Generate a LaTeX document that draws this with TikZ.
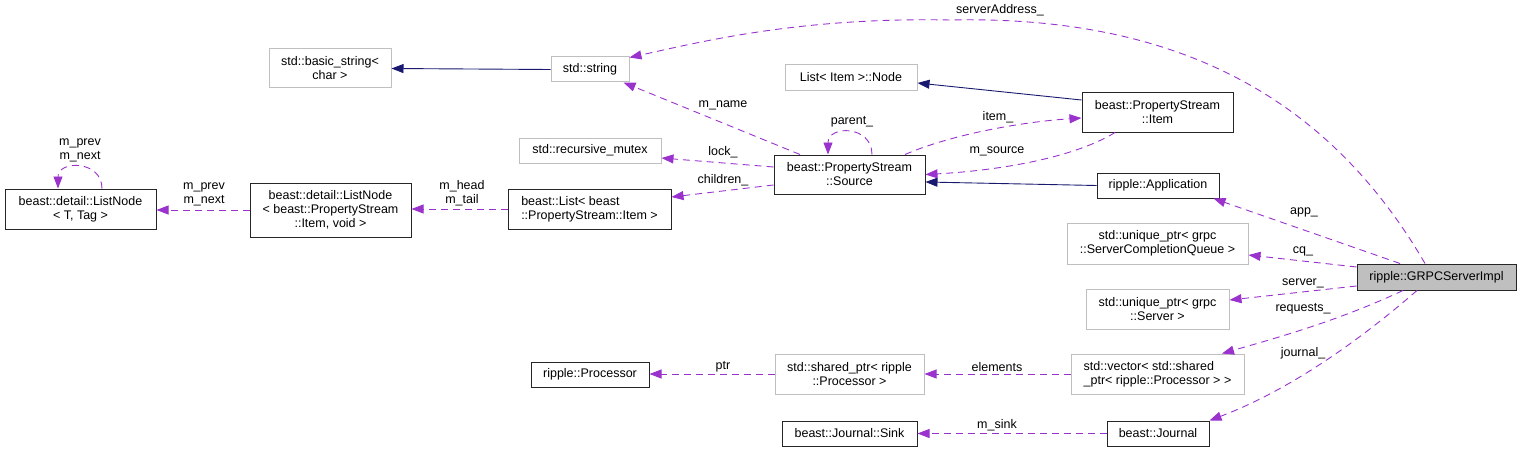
\documentclass[tikz,border=0pt]{standalone}
\usepackage{fontspec}
\setmainfont{Liberation Sans}
\usetikzlibrary{arrows.meta}
\definecolor{edgepurple}{RGB}{154,50,205}
\definecolor{edgenavy}{RGB}{25,25,112}
\definecolor{boxgray}{RGB}{191,191,191}

\begin{document}
\begin{tikzpicture}[x=1pt,y=-1pt,
  font=\fontsize{12.5}{14}\selectfont,
  cls/.style={draw=black!85, line width=1pt, inner sep=0pt, align=center},
  ext/.style={cls, draw=boxgray},
  member/.style={->, edgepurple, line width=0.9pt, dash pattern=on 7pt off 5pt},
  inherit/.style={->, edgenavy, line width=0.9pt},
  lbl/.style={inner sep=0pt, align=center}]
\useasboundingbox (0,0) rectangle (1521,452);
\begin{scope}[>={Triangle[length=12pt,width=9pt]}]

% classes
\node[cls, minimum width=151pt, minimum height=40pt] (lnT) at (80.5,209) {beast::detail::ListNode\\< T, Tag >};
\node[cls, minimum width=161pt, minimum height=54pt] (lnItem) at (330.5,210) {beast::detail::ListNode\\< beast::PropertyStream\\::Item, void >};
\node[cls, minimum width=163pt, minimum height=40pt, align=left] (listItem) at (589.5,209) {beast::List< beast\\::PropertyStream::Item >};
\node[ext, minimum width=122pt, minimum height=39pt] (basicstr) at (330,68.5) {std::basic\_string<\\char >};
\node[ext, minimum width=78pt, minimum height=25pt] (stdstring) at (590,69.5) {std::string};
\node[ext, minimum width=142pt, minimum height=25pt] (mutex) at (590,150.5) {std::recursive\_mutex};
\node[ext, minimum width=132pt, minimum height=25pt] (listnode) at (851,77.5) {List< Item >::Node};
\node[cls, minimum width=151pt, minimum height=39pt] (source) at (849.5,174.5) {beast::PropertyStream\\::Source};
\node[cls, minimum width=151pt, minimum height=40pt] (item) at (1157.5,112) {beast::PropertyStream\\::Item};
\node[cls, minimum width=122pt, minimum height=25pt] (app) at (1158,185.5) {ripple::Application};
\node[ext, minimum width=181pt, minimum height=41pt] (cq) at (1157.5,243.5) {std::unique\_ptr< grpc\\::ServerCompletionQueue >};
\node[ext, minimum width=143pt, minimum height=40pt] (server) at (1157.5,309) {std::unique\_ptr< grpc\\::Server >};
\node[cls, fill=boxgray, minimum width=159pt, minimum height=26pt] (grpc) at (1436.5,277) {ripple::GRPCServerImpl};
\node[cls, minimum width=118pt, minimum height=25pt] (processor) at (590,374.5) {ripple::Processor};
\node[ext, minimum width=149pt, minimum height=40pt] (sharedptr) at (849.5,374) {std::shared\_ptr< ripple\\::Processor >};
\node[ext, minimum width=173pt, minimum height=40pt, align=left] (vector) at (1157.5,374) {std::vector< std::shared\\\_ptr< ripple::Processor > >};
\node[cls, minimum width=135pt, minimum height=25pt] (sink) at (849.5,433.5) {beast::Journal::Sink};
\node[cls, minimum width=102pt, minimum height=25pt] (journal) at (1158,433.5) {beast::Journal};

% inheritance
\draw[inherit] (stdstring.west) -- (basicstr.east);
\draw[inherit] ([yshift=12pt]item.west) -- ([yshift=-5.5pt]listnode.east);
\draw[inherit] (app.west) -- ([yshift=-7.5pt]source.east);

% members
\draw[member] ([xshift=-11.5pt]grpc.north) .. controls (1330,100) and (1180,15) .. (950,20)
  .. controls (800,17) and (700,42) .. ([yshift=-1pt]stdstring.north east);
\draw[member] ([xshift=-49.5pt]source.north) -- ([xshift=-6pt]stdstring.south east);
\draw[member] ([xshift=22.5pt]source.north) .. controls (872,125) and (828,125) .. ([xshift=-21.5pt]source.north);
\draw[member] ([xshift=55.5pt]source.north) .. controls (950,135) and (1020,122) .. ([yshift=-6pt]item.west);
\draw[member] ([xshift=-42.5pt]item.south) .. controls (1070,160) and (990,171) .. (source.east);
\draw[member] ([yshift=7.5pt]source.west) -- ([yshift=-7.5pt]mutex.east);
\draw[member] ([yshift=-10.5pt]source.west) -- ([yshift=12pt]listItem.east);
\draw[member] (listItem.west) -- (listItem.west -| lnItem.east);
\draw[member] (lnItem.west) -- (lnItem.west -| lnT.east);
\draw[member] ([xshift=21.5pt]lnT.north) .. controls (102,160) and (58,160) .. ([xshift=-22.5pt]lnT.north);
\draw[member] ([xshift=-36.5pt]grpc.north) -- ([xshift=-6pt]app.south east);
\draw[member] ([yshift=10pt]grpc.west) -- ([yshift=-11.5pt]cq.east);
\draw[member] ([yshift=-9pt]grpc.west) -- ([yshift=9pt]server.east);
\draw[member] ([xshift=-33.5pt]grpc.south) .. controls (1340,320) and (1280,337) .. ([xshift=64.5pt]vector.north);
\draw[member] ([xshift=-19.5pt]grpc.south) .. controls (1360,340) and (1290,390) .. (journal.north east);
\draw[member] (vector.west) -- (sharedptr.east);
\draw[member] (sharedptr.west) -- (sharedptr.west -| processor.east);
\draw[member] (journal.west) -- (sink.east);

% edge labels
\node[lbl] (lAddr) at (1000,10) {serverAddress\_};
\node[lbl] (lName) at (723,105) {m\_name};
\node[lbl] (lParent) at (852,122) {parent\_};
\node[lbl] (lItem) at (998,117) {item\_};
\node[lbl] (lSource) at (997,151) {m\_source};
\node[lbl] (lLock) at (723,152) {lock\_};
\node[lbl] (lChildren) at (723,180) {children\_};
\node[lbl] (lHead) at (462,193) {m\_head\\m\_tail};
\node[lbl] (lPrevA) at (204,194) {m\_prev\\m\_next};
\node[lbl] (lPrevB) at (80,150) {m\_prev\\m\_next};
\node[lbl] (lApp) at (1304,212) {app\_};
\node[lbl] (lCq) at (1303,251) {cq\_};
\node[lbl] (lServer) at (1303,283) {server\_};
\node[lbl] (lReq) at (1303,309) {requests\_};
\node[lbl] (lJournal) at (1303,353) {journal\_};
\node[lbl] (lElem) at (997,367) {elements};
\node[lbl] (lPtr) at (723,367) {ptr};
\node[lbl] (lSink) at (997,425) {m\_sink};

\end{scope}
\end{tikzpicture}
\end{document}
